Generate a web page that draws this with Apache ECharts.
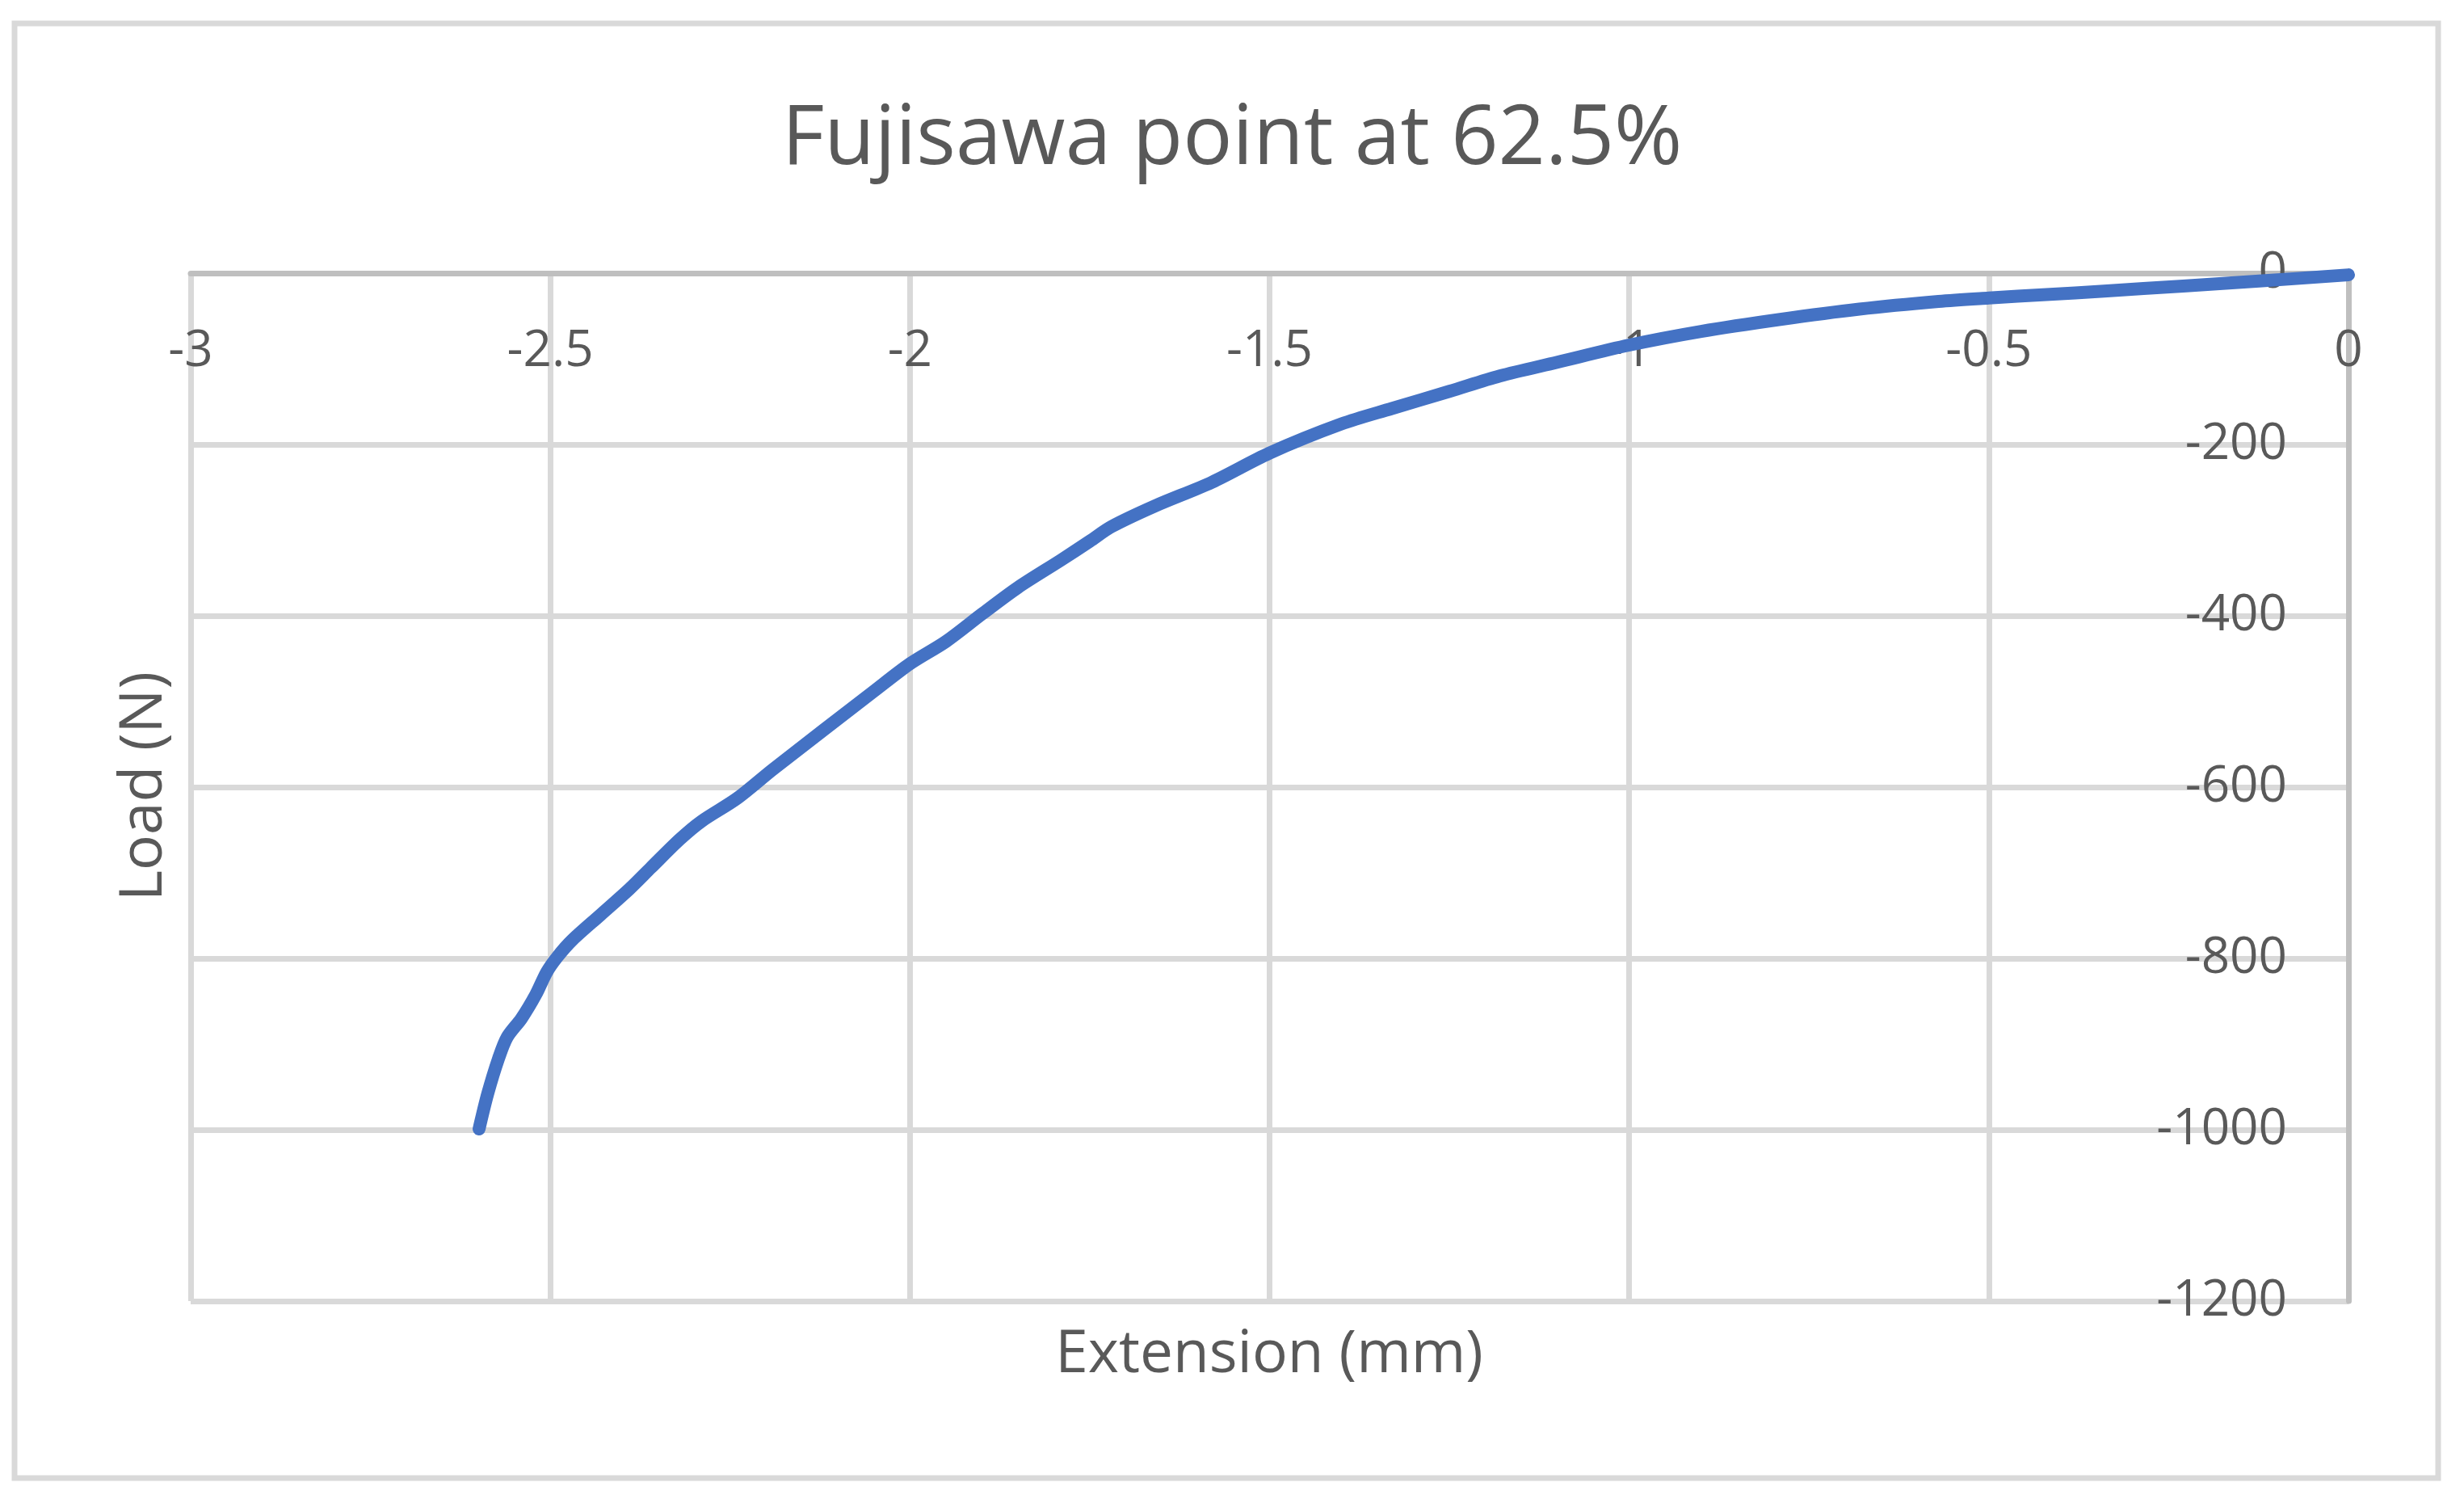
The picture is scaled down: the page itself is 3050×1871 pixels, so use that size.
<!DOCTYPE html>
<html>
<head>
<meta charset="utf-8">
<script src="https://cdn.jsdelivr.net/npm/echarts@6/dist/echarts.min.js"></script>
<style>
html,body{margin:0;padding:0;background:#fff;}
#chart{width:3050px;height:1871px;}
</style>
</head>
<body>
<div id="chart"></div>
<script>
// Data
var titleText = 'Fujisawa point at 62.5%';
var xAxisName = 'Extension (mm)';
var yAxisName = 'Load (N)';
var extension = [0, -0.12, -0.23, -0.34, -0.42, -0.5, -0.57, -0.68, -0.79, -0.9, -1.0, -1.1, -1.18, -1.25, -1.33, -1.4, -1.5, -1.58, -1.66, -1.72, -1.75, -1.79, -1.85, -1.9, -1.95, -2.0, -2.05, -2.19, -2.24, -2.29, -2.32, -2.36, -2.39, -2.43, -2.47, -2.49, -2.505, -2.52, -2.54, -2.56, -2.572, -2.587, -2.599];
var load = [-2, -9, -15, -21, -25, -29, -33, -42, -54, -68, -84, -104, -120, -138, -158, -176, -210, -244, -272, -296, -313, -335, -367, -398, -430, -456, -488, -579, -613, -640, -661, -694, -719, -749, -779, -798, -816, -842, -870, -892, -917, -958, -999];
var xMin = -3, xMax = 0, xStep = 0.5;
var yMin = -1200, yMax = 0, yStep = 200;

var points = extension.map(function (x, i) { return [x, load[i]]; });

var chart = echarts.init(document.getElementById('chart'), null, {renderer: 'canvas'});
var font = '"Open Sans", "Noto Sans", sans-serif';
var textColor = '#595959';

chart.setOption({
  animation: false,
  backgroundColor: '#ffffff',
  title: {
    text: titleText,
    left: 'center',
    top: 118,
    textStyle: {fontFamily: font, fontSize: 102, fontWeight: 'normal', color: textColor}
  },
  grid: {left: 236, right: 143, top: 338, bottom: 261, containLabel: false},
  xAxis: {
    type: 'value',
    position: 'top',
    min: xMin, max: xMax, interval: xStep,
    axisLine: {show: true, onZero: false, lineStyle: {color: '#bfbfbf', width: 7}},
    axisTick: {show: false},
    axisLabel: {
      inside: true,
      margin: 66, color: textColor, fontFamily: font, fontSize: 62,
      formatter: function (v) { return String(v); }
    },
    splitLine: {show: true, lineStyle: {color: '#d9d9d9', width: 7}}
  },
  yAxis: {
    type: 'value',
    position: 'right',
    min: yMin, max: yMax, interval: yStep,
    axisLine: {show: true, onZero: false, lineStyle: {color: '#bfbfbf', width: 7}},
    axisTick: {show: false},
    axisLabel: {
      inside: true,
      margin: 76, color: textColor, fontFamily: font, fontSize: 62,
      formatter: function (v) { return String(v); }
    },
    splitLine: {show: true, lineStyle: {color: '#d9d9d9', width: 7}}
  },
  series: [{
    type: 'line',
    data: points,
    showSymbol: false,
    smooth: 0.3,
    lineStyle: {color: '#4472C4', width: 16, cap: 'round', join: 'round'},
    itemStyle: {color: '#4472C4'},
    z: 5
  }],
  graphic: [
    {
      type: 'rect', silent: true, z: -1,
      shape: {x: 18, y: 29, width: 3000, height: 1800},
      style: {fill: null, stroke: '#d9d9d9', lineWidth: 7}
    },
    {
      type: 'text', x: 1571, y: 1677,
      style: {text: xAxisName, fill: textColor, font: '73px ' + font, textAlign: 'center', textVerticalAlign: 'middle'}
    },
    {
      type: 'text', x: 179, y: 973, rotation: Math.PI / 2,
      style: {text: yAxisName, fill: textColor, font: '73px ' + font, textAlign: 'center', textVerticalAlign: 'middle'}
    }
  ]
});
</script>
</body>
</html>
